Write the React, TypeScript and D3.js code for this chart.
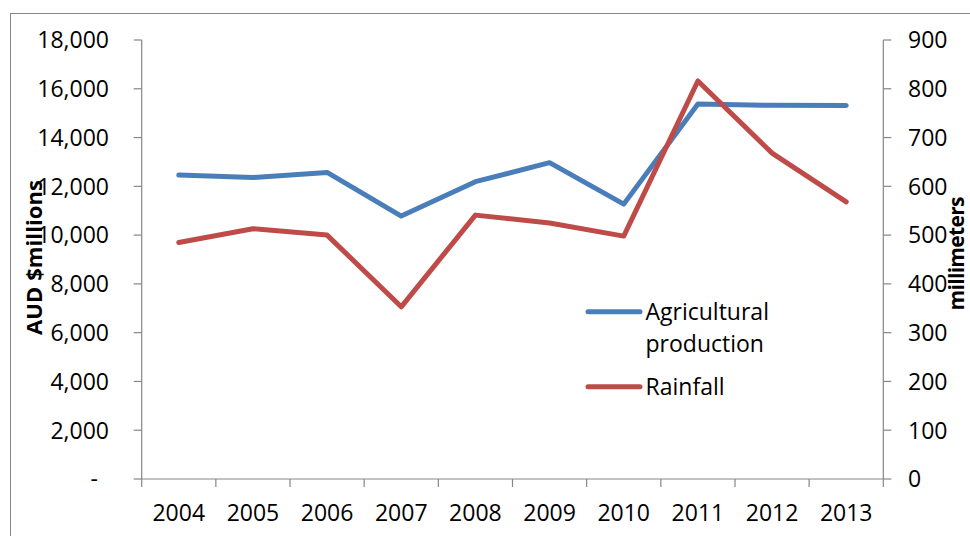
import React from "react";
import * as d3 from "d3";

const years = ["2004", "2005", "2006", "2007", "2008", "2009", "2010", "2011", "2012", "2013"];
const agriculturalProduction = [12460, 12360, 12570, 10780, 12190, 12970, 11270, 15380, 15320, 15310];
const rainfall = [485, 513, 500, 353, 541, 525, 498, 816, 668, 568];
const leftTicks = [0, 2000, 4000, 6000, 8000, 10000, 12000, 14000, 16000, 18000];
const leftTickLabels = ["-", "2,000", "4,000", "6,000", "8,000", "10,000", "12,000", "14,000", "16,000", "18,000"];
const rightTicks = [0, 100, 200, 300, 400, 500, 600, 700, 800, 900];
const seriesNames = ["Agricultural production", "Rainfall"];

const W = 970;
const H = 536;
const FONT = "'Open Sans', 'Noto Sans', sans-serif";
const BLUE = "#4A7EBB";
const RED = "#BE4B48";
const AXIS = "#868686";

export default function App() {
  const plotLeft = 141.7;
  const plotRight = 883.3;
  const plotTop = 40;
  const plotBottom = 479;

  const x = d3.scaleBand<string>().domain(years).range([plotLeft, plotRight]).padding(0);
  const yL = d3.scaleLinear().domain([0, 18000]).range([plotBottom, plotTop]);
  const yR = d3.scaleLinear().domain([0, 900]).range([plotBottom, plotTop]);
  const cx = (d: string) => (x(d) as number) + x.bandwidth() / 2;

  const lineL = d3
    .line<number>()
    .x((_, i) => cx(years[i]))
    .y((d) => yL(d));
  const lineR = d3
    .line<number>()
    .x((_, i) => cx(years[i]))
    .y((d) => yR(d));

  const boundaries = [...years.map((y) => x(y) as number), plotRight];

  return (
    <svg
      width={W}
      height={H}
      style={{ position: "absolute", left: 0, top: 0, background: "#fff" }}
      fontFamily={FONT}
    >
      <rect x={0} y={0} width={W} height={H} fill="#fff" />
      {/* chart frame */}
      <rect x={10.5} y={13.5} width={W + 20} height={H + 20} fill="none" stroke={AXIS} strokeWidth={1} />

      {/* left axis */}
      <line x1={plotLeft} x2={plotLeft} y1={plotTop} y2={plotBottom} stroke={AXIS} strokeWidth={1.2} />
      {leftTicks.map((t, i) => (
        <g key={"l" + t}>
          <line x1={plotLeft - 8} x2={plotLeft} y1={yL(t)} y2={yL(t)} stroke={AXIS} strokeWidth={1.2} />
          <text
            x={t === 0 ? 98 : 109}
            y={yL(t)}
            dy="0.36em"
            textAnchor="end"
            fontSize={23}
            fill="#000"
          >
            {leftTickLabels[i]}
          </text>
        </g>
      ))}

      {/* right axis */}
      <line x1={plotRight} x2={plotRight} y1={plotTop} y2={plotBottom} stroke={AXIS} strokeWidth={1.2} />
      {rightTicks.map((t) => (
        <g key={"r" + t}>
          <line x1={plotRight} x2={plotRight + 8} y1={yR(t)} y2={yR(t)} stroke={AXIS} strokeWidth={1.2} />
          <text x={908} y={yR(t)} dy="0.36em" textAnchor="start" fontSize={23} fill="#000">
            {t}
          </text>
        </g>
      ))}

      {/* bottom axis */}
      <line x1={plotLeft} x2={plotRight} y1={plotBottom} y2={plotBottom} stroke={AXIS} strokeWidth={1.2} />
      {boundaries.map((b, i) => (
        <line key={"b" + i} x1={b} x2={b} y1={plotBottom} y2={plotBottom + 8} stroke={AXIS} strokeWidth={1.2} />
      ))}
      {years.map((yr) => (
        <text key={yr} x={cx(yr)} y={520.5} textAnchor="middle" fontSize={23} fill="#000">
          {yr}
        </text>
      ))}

      {/* axis titles */}
      <text
        transform={`translate(41.5, ${(plotTop + plotBottom) / 2 - 2}) rotate(-90)`}
        textAnchor="middle"
        fontSize={22}
        fontWeight="bold"
        fill="#000"
        textLength={155}
        lengthAdjust="spacing"
      >
        AUD $millions
      </text>
      <text
        transform={`translate(964, ${(plotTop + plotBottom) / 2 - 6}) rotate(-90)`}
        textAnchor="middle"
        fontSize={21}
        fontWeight="bold"
        fill="#000"
        textLength={114}
        lengthAdjust="spacing"
      >
        millimeters
      </text>

      {/* series */}
      <path
        d={lineL(agriculturalProduction) || ""}
        fill="none"
        stroke={BLUE}
        strokeWidth={5}
        strokeLinejoin="round"
        strokeLinecap="round"
      />
      <path
        d={lineR(rainfall) || ""}
        fill="none"
        stroke={RED}
        strokeWidth={5}
        strokeLinejoin="round"
        strokeLinecap="round"
      />

      {/* legend */}
      <line x1={588} x2={640} y1={311.7} y2={311.7} stroke={BLUE} strokeWidth={5} strokeLinecap="round" />
      <text x={645.5} y={320} fontSize={23} fill="#000">
        Agricultural
      </text>
      <text x={645.5} y={352} fontSize={23} fill="#000">
        production
      </text>
      <line x1={588} x2={640} y1={386.7} y2={386.7} stroke={RED} strokeWidth={5} strokeLinecap="round" />
      <text x={645.5} y={395} fontSize={23} fill="#000">
        {seriesNames[1]}
      </text>
    </svg>
  );
}
